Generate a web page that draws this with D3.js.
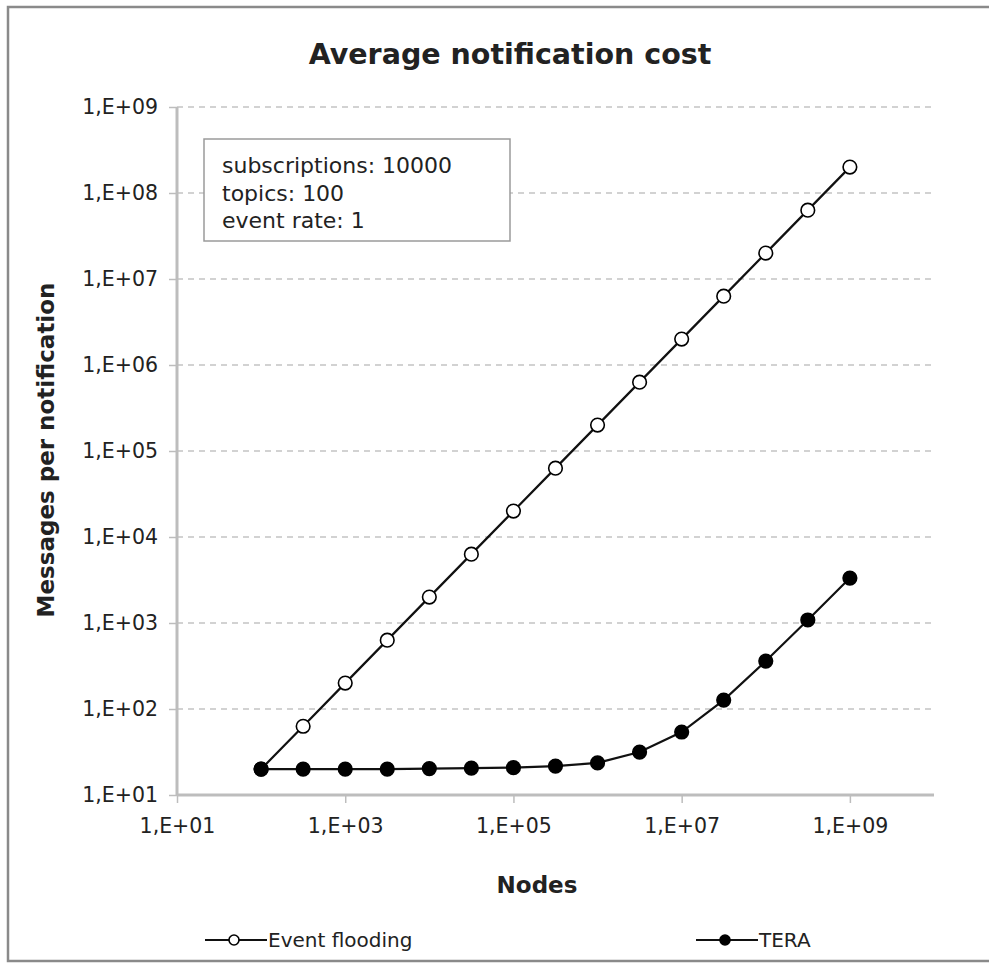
<!DOCTYPE html>
<html>
<head>
<meta charset="utf-8">
<style>
body { margin: 0; background: #fff; }
svg text { font-family: "DejaVu Sans", Verdana, sans-serif; fill: #222; }
</style>
</head>
<body>
<div id="chart"></div>
<script src="https://d3js.org/d3.v7.min.js"></script>
<script>
// nodes (x values, half-decade steps)
const nodes = [1e2, 3.16e2, 1e3, 3.16e3, 1e4, 3.16e4, 1e5, 3.16e5, 1e6, 3.16e6, 1e7, 3.16e7, 1e8, 3.16e8, 1e9];
const flooding = [20, 63, 200, 632, 2000, 6320, 2e4, 6.32e4, 2e5, 6.32e5, 2e6, 6.32e6, 2e7, 6.32e7, 2e8];
const tera = [20, 20, 20, 20, 20.3, 20.5, 20.8, 21.7, 23.6, 31.6, 54, 127, 361, 1084, 3330];
const xTicks = [1e1, 1e3, 1e5, 1e7, 1e9];
const yTicks = [1e1, 1e2, 1e3, 1e4, 1e5, 1e6, 1e7, 1e8, 1e9];
const infoLines = ["subscriptions: 10000", "topics: 100", "event rate: 1"];

const width = 989, height = 963;
const svg = d3.select("#chart").append("svg")
  .attr("width", width)
  .attr("height", height);

// outer frame
svg.append("rect")
  .attr("x", 8).attr("y", 7)
  .attr("width", 1000).attr("height", 954)
  .attr("fill", "none")
  .attr("stroke", "#8a8a8a")
  .attr("stroke-width", 2.5);

const x = d3.scaleLog().domain([1e1, 1e10]).range([177, 934]);
const y = d3.scaleLog().domain([1e1, 1e9]).range([795, 107]);

const fmt = d => "1,E+" + String(Math.round(Math.log10(d))).padStart(2, "0");

// gridlines
svg.append("g")
  .selectAll("line")
  .data(yTicks.slice(1))
  .join("line")
  .attr("x1", 177).attr("x2", 934)
  .attr("y1", d => y(d)).attr("y2", d => y(d))
  .attr("stroke", "#c4c4c4")
  .attr("stroke-width", 1.5)
  .attr("stroke-dasharray", "6,5");

// axes
const xAxis = svg.append("g")
  .attr("transform", "translate(0,795)")
  .call(d3.axisBottom(x).tickValues(xTicks).tickFormat(fmt).tickSize(8).tickPadding(15));
const yAxis = svg.append("g")
  .attr("transform", "translate(177,0)")
  .call(d3.axisLeft(y).tickValues(yTicks).tickFormat(fmt).tickSize(8).tickPadding(11));

[xAxis, yAxis].forEach(a => {
  a.select(".domain").attr("stroke", "#bdbdbd").attr("stroke-width", 3);
  a.selectAll(".tick line").attr("stroke", "#bdbdbd").attr("stroke-width", 1.5);
  a.selectAll(".tick text")
    .attr("font-size", 20.5)
    .attr("font-family", "DejaVu Sans, Verdana, sans-serif")
    .attr("fill", "#222");
});
xAxis.select(".domain").attr("d", "M177,0H934");
yAxis.select(".domain").attr("d", "M0,795V107");

// info box
const box = svg.append("g");
box.append("rect")
  .attr("x", 204).attr("y", 139)
  .attr("width", 306).attr("height", 102)
  .attr("fill", "#fff")
  .attr("stroke", "#9a9a9a")
  .attr("stroke-width", 1.5);
box.selectAll("text")
  .data(infoLines)
  .join("text")
  .attr("x", 222)
  .attr("y", (d, i) => 173 + i * 27.5)
  .attr("font-size", 22)
  .text(d => d);

// lines + markers
const line = d3.line()
  .x((d, i) => x(nodes[i]))
  .y(d => y(d));

const series = [
  { name: "Event flooding", values: flooding, fill: "#fff" },
  { name: "TERA", values: tera, fill: "#000" }
];

series.forEach(s => {
  svg.append("path")
    .datum(s.values)
    .attr("d", line)
    .attr("fill", "none")
    .attr("stroke", "#111")
    .attr("stroke-width", 2.2);
  svg.append("g")
    .selectAll("circle")
    .data(s.values)
    .join("circle")
    .attr("cx", (d, i) => x(nodes[i]))
    .attr("cy", d => y(d))
    .attr("r", 6.8)
    .attr("fill", s.fill)
    .attr("stroke", "#000")
    .attr("stroke-width", 1.6);
});

// titles
svg.append("text")
  .attr("x", 510).attr("y", 64)
  .attr("text-anchor", "middle")
  .attr("font-size", 28.5)
  .attr("font-weight", "bold")
  .text("Average notification cost");

svg.append("text")
  .attr("x", 537).attr("y", 893)
  .attr("text-anchor", "middle")
  .attr("font-size", 23)
  .attr("font-weight", "bold")
  .text("Nodes");

svg.append("text")
  .attr("transform", "translate(54,450) rotate(-90)")
  .attr("text-anchor", "middle")
  .attr("font-size", 23)
  .attr("font-weight", "bold")
  .text("Messages per notification");

// legend
const legendPos = [205, 696];
series.forEach((s, i) => {
  const g = svg.append("g").attr("transform", `translate(${legendPos[i]},940)`);
  g.append("line")
    .attr("x1", 0).attr("x2", 62)
    .attr("y1", 0).attr("y2", 0)
    .attr("stroke", "#111").attr("stroke-width", 2.2);
  g.append("circle")
    .attr("cx", 29).attr("cy", 0).attr("r", 5)
    .attr("fill", s.fill).attr("stroke", "#000").attr("stroke-width", 1.6);
  g.append("text")
    .attr("x", 63).attr("y", 7)
    .attr("font-size", 20)
    .text(s.name);
});
</script>
</body>
</html>
